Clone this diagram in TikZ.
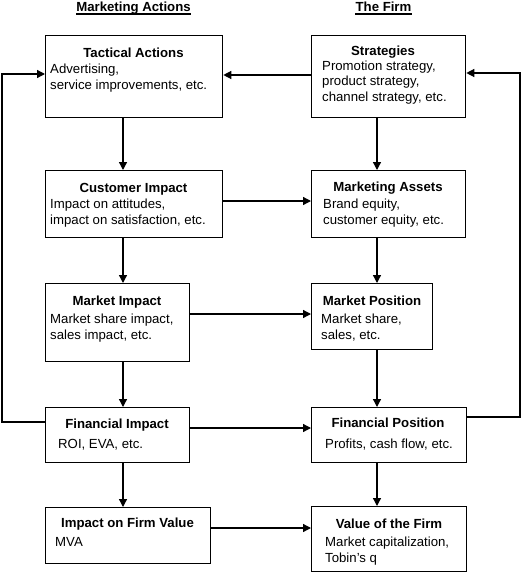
\documentclass[tikz,border=0pt]{standalone}
\usepackage{fontspec}
\setmainfont{Liberation Sans}
\usetikzlibrary{arrows.meta}
\begin{document}
\begin{tikzpicture}[x=1pt,y=-1pt,
  box/.style 2 args={draw, line width=1.3pt, inner sep=0pt, anchor=north west, minimum width=#1pt, minimum height=#2pt},
  ttl/.style={font=\bfseries\fontsize{13.2}{16}\selectfont, anchor=base, inner sep=0pt},
  body/.style={font=\fontsize{13.2}{16}\selectfont, anchor=base west, align=left, inner sep=0pt},
  arr/.style={line width=1.3pt, -{Triangle[length=8pt,width=8pt]}},
  ln/.style={line width=1.3pt}]
\useasboundingbox (0,0) rectangle (521,573);
% headings
\node[ttl] (h1) at (133.5,11) {Marketing Actions};
\node[ttl] (h2) at (383.5,11) {The Firm};
\draw[line width=1.5pt] ([yshift=-3pt]h1.base west) -- ([yshift=-3pt]h1.base east);
\draw[line width=1.5pt] ([yshift=-3pt]h2.base west) -- ([yshift=-3pt]h2.base east);
% boxes
\node[box={177}{82}] (ta) at (45,35) {};
\node[box={154}{82}] (st) at (311,35) {};
\node[box={177}{67}] (ci) at (45,170) {};
\node[box={154}{67}] (ma) at (311,170) {};
\node[box={144}{78}] (mi) at (45,283) {};
\node[box={121}{66}] (mp) at (311,283) {};
\node[box={144}{55}] (fi) at (45,407) {};
\node[box={155}{55}] (fp) at (311,407) {};
\node[box={165}{56}] (iv) at (45,507) {};
\node[box={155}{65}] (vf) at (311,506) {};
% titles
\node[ttl] (tat) at (133.5,57) {Tactical Actions};
\node[ttl] (stt) at (383,55) {Strategies};
\node[ttl] (cit) at (133.5,192) {Customer Impact};
\node[ttl] (mat) at (388,191) {Marketing Assets};
\node[ttl] (mit) at (117,305) {Market Impact};
\node[ttl] (mpt) at (372,305) {Market Position};
\node[ttl] (fit) at (117,428) {Financial Impact};
\node[ttl] (fpt) at (388,427) {Financial Position};
\node[ttl] (ivt) at (127.5,527) {Impact on Firm Value};
\node[ttl] (vft) at (389,528) {Value of the Firm};
% bodies (anchored at the baseline of the last line)
\node[body] (tab) at (50,89) {Advertising,\\service improvements, etc.};
\node[body, font=\fontsize{13.2}{15.5}\selectfont] (stb) at (322,101) {Promotion strategy,\\product strategy,\\channel strategy, etc.};
\node[body] (cib) at (50,224.5) {Impact on attitudes,\\impact on satisfaction, etc.};
\node[body] (mab) at (323,224) {Brand equity,\\customer equity, etc.};
\node[body] (mib) at (50,339) {Market share impact,\\sales impact, etc.};
\node[body] (mpb) at (321,339) {Market share,\\sales, etc.};
\node[body] (fib) at (58,448) {ROI, EVA, etc.};
\node[body] (fpb) at (325,448) {Profits, cash flow, etc.};
\node[body] (ivb) at (55,546) {MVA};
\node[body] (vfb) at (325,562) {Market capitalization,\\Tobin's q};
% vertical arrows
\draw[arr] (ta.south -| 123,0) -- (ci.north -| 123,0);
\draw[arr] (ci.south -| 123,0) -- (mi.north -| 123,0);
\draw[arr] (mi.south -| 123,0) -- (fi.north -| 123,0);
\draw[arr] (fi.south -| 123,0) -- (iv.north -| 123,0);
\draw[arr] (st.south -| 377,0) -- (ma.north -| 377,0);
\draw[arr] (ma.south -| 377,0) -- (mp.north -| 377,0);
\draw[arr] (mp.south -| 377,0) -- (fp.north -| 377,0);
\draw[arr] (fp.south -| 377,0) -- (vf.north -| 377,0);
% horizontal arrows
\draw[arr] (st.west |- 0,75) -- (ta.east |- 0,75);
\draw[arr] (ci.east |- 0,201) -- (ma.west |- 0,201);
\draw[arr] (mi.east |- 0,314) -- (mp.west |- 0,314);
\draw[arr] (fi.east |- 0,428) -- (fp.west |- 0,428);
\draw[arr] (iv.east |- 0,528) -- (vf.west |- 0,528);
% feedback loops
\coordinate (lb) at (2,422);
\coordinate (lt) at (2,74);
\coordinate (rb) at (520,417);
\coordinate (rt) at (520,73);
\draw[arr] (fi.west |- lb) -- (lb) -- (lt) -- (ta.west |- lt);
\draw[arr] (fp.east |- rb) -- (rb) -- (rt) -- (st.east |- rt);
\end{tikzpicture}
\end{document}
